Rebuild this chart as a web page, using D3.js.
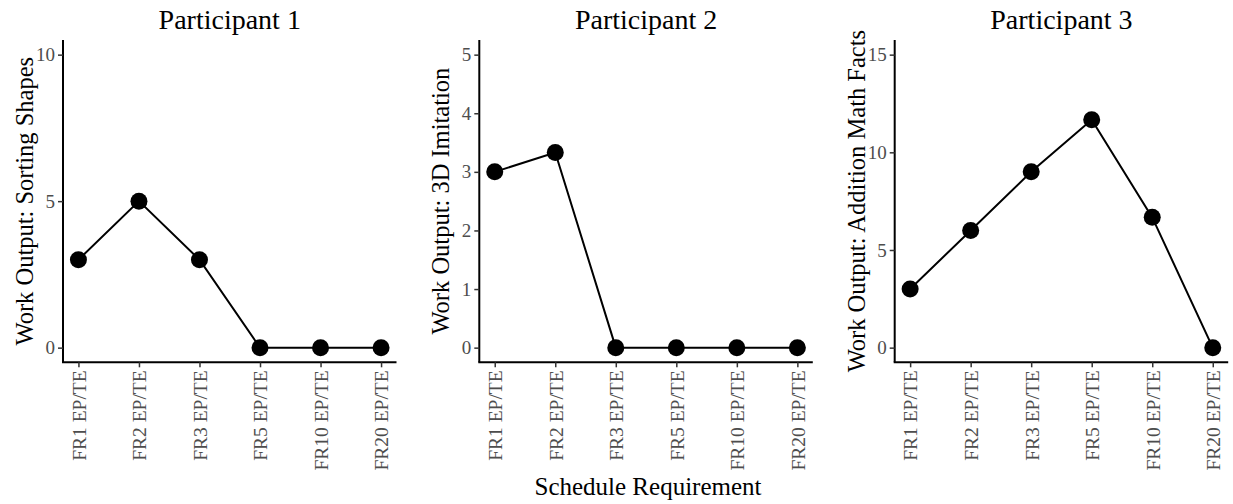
<!DOCTYPE html>
<html>
<head>
<meta charset="utf-8">
<script src="https://cdn.jsdelivr.net/npm/d3@7"></script>
<style>
  body { margin: 0; background: #fff; }
  svg text { font-family: "Liberation Serif", "Times New Roman", serif; }
</style>
</head>
<body>
<svg id="chart" width="1233" height="504"></svg>
<script>
// schedule requirements (x categories)
const categories = ["FR1 EP/TE", "FR2 EP/TE", "FR3 EP/TE", "FR5 EP/TE", "FR10 EP/TE", "FR20 EP/TE"];

// work output per participant
const participant1 = [3, 5, 3, 0, 0, 0];
const participant2 = [3, 3.33, 0, 0, 0, 0];
const participant3 = [3, 6, 9, 11.67, 6.67, 0];

const panelTitles = ["Participant 1", "Participant 2", "Participant 3"];
const yTitles = ["Work Output: Sorting Shapes", "Work Output: 3D Imitation", "Work Output: Addition Math Facts"];
const yMax = [10, 5, 15];
const yTicks = [[0, 5, 10], [0, 1, 2, 3, 4, 5], [0, 5, 10, 15]];
const xTitle = "Schedule Requirement";

const series = [participant1, participant2, participant3];

let svg = d3.select("#chart");

// panel placement
const panelLeft = [63, 479.3, 894.7];
const panelWidth = 333.5;
const panelTop = 40, panelBottom = 362.3;

series.forEach((values, p) => {
  let left = panelLeft[p];
  let g = svg.append("g");

  let x = d3.scalePoint()
    .domain(categories)
    .range([left, left + panelWidth])
    .padding(0.255);

  // ggplot style 5% expansion
  let pad = yMax[p] * 0.05;
  let y = d3.scaleLinear()
    .domain([-pad, yMax[p] + pad])
    .range([panelBottom, panelTop]);

  // y axis
  let yAxis = g.append("g")
    .attr("transform", `translate(${left},0)`)
    .call(d3.axisLeft(y).tickValues(yTicks[p]).tickSize(5).tickPadding(3).tickFormat(d3.format("d")));
  yAxis.select(".domain").attr("stroke", "#000").attr("stroke-width", 2).attr("d", `M0,${panelTop}V${panelBottom}`);
  yAxis.selectAll(".tick line").attr("stroke", "#333").attr("stroke-width", 1.5);
  yAxis.selectAll(".tick text")
    .attr("fill", "#4d4d4d")
    .style("font-size", "19px")
    .style("font-family", '"Liberation Serif", serif');

  // x axis
  let xAxis = g.append("g")
    .attr("transform", `translate(0,${panelBottom})`)
    .call(d3.axisBottom(x).tickSize(5).tickPadding(3));
  xAxis.select(".domain").attr("stroke", "#000").attr("stroke-width", 2).attr("d", `M${left - 1},0H${left + panelWidth}`);
  xAxis.selectAll(".tick line").attr("stroke", "#333").attr("stroke-width", 1.5);
  xAxis.selectAll(".tick text")
    .attr("fill", "#4d4d4d")
    .style("font-size", "19.5px")
    .style("font-family", '"Liberation Serif", serif')
    .attr("text-anchor", "end")
    .attr("transform", "rotate(-90)")
    .attr("x", -8)
    .attr("y", 0)
    .attr("dy", "0.35em");

  // line + points
  let line = d3.line()
    .x((d, i) => x(categories[i]))
    .y(d => y(d));

  g.append("path")
    .datum(values)
    .attr("d", line)
    .attr("fill", "none")
    .attr("stroke", "#000")
    .attr("stroke-width", 2);

  g.selectAll("circle")
    .data(values)
    .join("circle")
    .attr("cx", (d, i) => x(categories[i]))
    .attr("cy", d => y(d))
    .attr("r", 8.5)
    .attr("fill", "#000");

  // panel title
  g.append("text")
    .text(panelTitles[p])
    .attr("x", left + panelWidth / 2)
    .attr("y", 29)
    .attr("text-anchor", "middle")
    .style("font-size", "28px")
    .attr("fill", "#000");

  // y title
  g.append("text")
    .text(yTitles[p])
    .attr("transform", `translate(${left - 30},${(panelTop + panelBottom) / 2}) rotate(-90)`)
    .attr("text-anchor", "middle")
    .style("font-size", "24.5px")
    .attr("fill", "#000");
});

svg.append("text")
  .text(xTitle)
  .attr("x", 648)
  .attr("y", 495)
  .attr("text-anchor", "middle")
  .style("font-size", "25px")
  .attr("fill", "#000");
</script>
</body>
</html>
